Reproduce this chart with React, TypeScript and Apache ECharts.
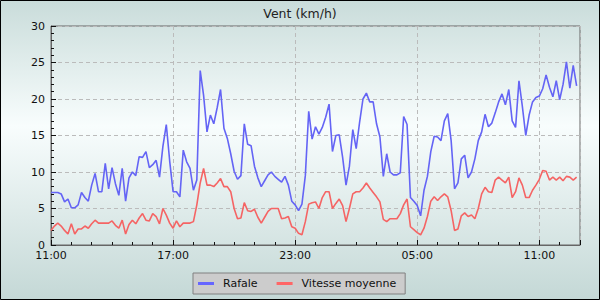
import React, { useEffect, useRef } from "react";
import * as echarts from "echarts";

// Wind data, one reading every 10 minutes starting at 11:00
const START_HOUR = 11;
const STEP_HOURS = 1 / 6;
const SPAN_HOURS = 26;

const RAFALE = [
  7.2, 7.2, 7.2, 7.0, 5.9, 6.3, 5.1, 5.1, 5.5, 7.2, 6.5, 6.0, 8.2, 9.8, 7.3, 7.3, 11.2, 7.7, 10.6, 8.4,
  6.8, 10.5, 6.0, 9.2, 10.0, 9.5, 12.1, 12.0, 12.8, 10.6, 11.0, 11.6, 9.3, 13.5, 16.5, 11.5, 7.3, 7.3, 6.6, 13.0,
  11.4, 10.5, 7.5, 8.9, 23.9, 20.5, 15.5, 17.8, 16.6, 18.8, 21.3, 16.0, 14.6, 12.5, 10.1, 9.0, 9.5, 16.6, 13.8, 13.6,
  10.8, 9.2, 8.0, 8.8, 9.6, 10.0, 9.4, 9.0, 8.6, 9.4, 8.2, 6.0, 5.5, 4.7, 5.6, 9.5, 18.3, 14.5, 16.2, 15.2,
  16.1, 17.5, 19.3, 12.8, 15.0, 15.1, 12.0, 8.2, 10.8, 15.8, 13.2, 16.8, 20.0, 20.8, 19.6, 19.6, 16.6, 14.8, 9.4, 12.5,
  10.0, 9.6, 9.6, 9.9, 17.6, 16.5, 6.5, 6.0, 5.4, 4.0, 7.5, 9.4, 12.8, 14.9, 14.8, 14.3, 17.0, 18.0, 14.3, 7.7,
  8.5, 11.8, 12.3, 9.2, 10.0, 11.8, 14.3, 15.5, 17.9, 16.2, 16.7, 18.1, 19.6, 20.7, 19.2, 21.3, 17.0, 16.1, 22.5, 19.0,
  15.0, 17.8, 19.6, 20.2, 20.4, 21.4, 23.3, 21.6, 20.3, 22.5, 19.9, 22.0, 25.1, 21.5, 24.6, 21.8,
];

const VITESSE = [
  2.0, 2.6, 3.0, 2.6, 2.0, 1.5, 2.9, 1.5, 2.2, 2.2, 2.6, 2.3, 2.9, 3.4, 3.0, 3.0, 3.0, 3.0, 3.3, 2.7,
  2.3, 3.4, 1.5, 2.8, 3.4, 2.9, 3.7, 4.3, 3.4, 3.3, 4.3, 3.9, 2.9, 5.0, 4.1, 3.0, 2.3, 3.3, 2.5, 3.0,
  3.0, 3.0, 3.2, 5.5, 8.5, 10.5, 8.2, 8.2, 8.0, 8.5, 9.1, 8.0, 8.0, 7.3, 5.0, 3.6, 3.7, 5.8, 4.7, 4.6,
  4.9, 3.8, 3.0, 3.8, 4.6, 5.0, 5.0, 5.0, 3.6, 3.7, 3.9, 2.5, 2.3, 1.6, 1.4, 3.2, 5.6, 5.8, 5.9, 5.0,
  6.5, 7.3, 7.3, 5.0, 5.7, 6.3, 5.4, 3.2, 5.0, 7.0, 7.3, 7.3, 7.8, 8.5, 7.8, 7.2, 6.6, 5.9, 3.5, 3.2,
  3.6, 3.6, 3.6, 4.3, 5.5, 6.3, 2.5, 2.1, 1.7, 1.4, 2.3, 3.9, 6.0, 6.6, 6.1, 6.6, 7.0, 6.6, 4.7, 2.0,
  2.2, 4.0, 4.4, 3.9, 4.1, 3.6, 5.0, 7.0, 7.9, 7.3, 7.2, 8.9, 9.3, 8.9, 8.5, 9.3, 6.5, 7.3, 9.2, 8.2,
  6.5, 6.5, 7.5, 8.2, 9.0, 10.2, 10.1, 8.9, 9.3, 8.9, 9.3, 8.8, 9.4, 9.3, 8.9, 9.3,
];

const X_TICK_LABELS = ["11:00", "17:00", "23:00", "05:00", "11:00"];
const SERIES_NAMES = ["Rafale", "Vitesse moyenne"];

const FONT = "DejaVu Sans";

function toPairs(values: number[]) {
  return values.map((v, i) => [i * STEP_HOURS, v]);
}

export default function App() {
  const ref = useRef<HTMLDivElement>(null);

  useEffect(() => {
    document.body.style.margin = "0";
    if (!ref.current) return;
    const chart = echarts.init(ref.current, null, { renderer: "svg" });
    chart.setOption({
      animation: false,
      textStyle: { fontFamily: FONT },
      title: {
        text: "Vent (km/h)",
        left: "center",
        top: 7,
        padding: 0,
        textStyle: { fontSize: 12.5, fontWeight: "normal", color: "#222", fontFamily: FONT },
      },
      graphic: [
        {
          type: "rect",
          z: -10,
          silent: true,
          shape: { x: 0, y: 0, width: 600, height: 300 },
          style: {
            fill: new echarts.graphic.LinearGradient(0, 0, 0, 1, [
              { offset: 0, color: "#c9dcda" },
              { offset: 0.42, color: "#f8fdfd" },
              { offset: 1, color: "#c4d8d6" },
            ]),
          },
        },
        {
          type: "rect",
          z: 100,
          silent: true,
          shape: { x: 0.5, y: 0.5, width: 599, height: 299 },
          style: { fill: "none", stroke: "#000", lineWidth: 1 },
        },
      ],
      legend: {
        data: SERIES_NAMES,
        left: 193,
        top: 273,
        padding: [4, 9, 4, 5],
        backgroundColor: "#cccccc",
        borderColor: "#808080",
        borderWidth: 1,
        itemGap: 19,
        itemWidth: 16,
        itemHeight: 3,
        icon: "rect",
        textStyle: { fontSize: 11, color: "#111", fontFamily: FONT, padding: [0, 0, 0, 4], lineHeight: 13 },
      },
      grid: {
        left: 51,
        right: 20,
        top: 26,
        bottom: 55,
        show: true,
        borderColor: "#666",
        borderWidth: 1,
        backgroundColor: "transparent",
      },
      xAxis: {
        type: "value",
        min: 0,
        max: SPAN_HOURS,
        interval: 6,
        axisLine: { show: true, lineStyle: { color: "#666" } },
        axisTick: { show: true, inside: true, length: 5, lineStyle: { color: "#111" } },
        minorTick: { show: true, splitNumber: 6, length: 3, lineStyle: { color: "#111" } },
        axisLabel: {
          margin: 5,
          fontSize: 11,
          color: "#111",
          fontFamily: FONT,
          formatter: (v: number) => {
            const idx = Math.round(v / 6);
            return Math.abs(v - idx * 6) < 1e-6 && X_TICK_LABELS[idx] ? X_TICK_LABELS[idx] : "";
          },
        },
        splitLine: { show: true, lineStyle: { color: "#bbbbbb", type: [4, 3] } },
      },
      yAxis: {
        type: "value",
        min: 0,
        max: 30,
        interval: 5,
        axisLine: { show: true, lineStyle: { color: "#666" } },
        axisTick: { show: true, inside: true, length: 5, lineStyle: { color: "#111" } },
        minorTick: { show: true, splitNumber: 5, length: 3, lineStyle: { color: "#111" } },
        axisLabel: { margin: 6, fontSize: 11, color: "#111", fontFamily: FONT },
        splitLine: { show: true, lineStyle: { color: "#bbbbbb", type: [4, 3] } },
      },
      series: [
        {
          name: SERIES_NAMES[0],
          type: "line",
          symbol: "none",
          data: toPairs(RAFALE),
          lineStyle: { width: 1.6, color: "#6464f5" },
          itemStyle: { color: "#6666ff" },
          z: 3,
        },
        {
          name: SERIES_NAMES[1],
          type: "line",
          symbol: "none",
          data: toPairs(VITESSE),
          lineStyle: { width: 1.6, color: "#f56464" },
          itemStyle: { color: "#ff6666" },
          z: 2,
        },
      ],
    });
    return () => chart.dispose();
  }, []);

  return <div ref={ref} style={{ width: 600, height: 300 }} />;
}
